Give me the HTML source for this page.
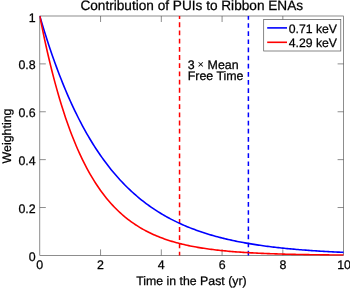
<!DOCTYPE html>
<html><head><meta charset="utf-8"><title>Contribution of PUIs to Ribbon ENAs</title>
<style>
html,body{margin:0;padding:0;background:#fff;}
body{width:350px;height:288px;overflow:hidden;}
svg{display:block;}
text{font-family:"Liberation Sans",sans-serif;fill:#000;stroke:#000;stroke-width:0.25px;text-rendering:geometricPrecision;}
</style></head><body>
<svg width="350" height="288" viewBox="0 0 350 288">
<defs><clipPath id="ax"><rect x="39.50" y="15.70" width="304.40" height="240.00"/></clipPath></defs>
<rect width="350" height="288" fill="#fff"/>
<g stroke="#505050" stroke-width="0.65" fill="none">
<rect x="39.8" y="16.0" width="303.80" height="239.40"/>
<line x1="100.56" y1="255.40" x2="100.56" y2="249.40"/><line x1="100.56" y1="16.00" x2="100.56" y2="22.00"/><line x1="39.80" y1="207.52" x2="45.80" y2="207.52"/><line x1="343.60" y1="207.52" x2="337.60" y2="207.52"/><line x1="161.32" y1="255.40" x2="161.32" y2="249.40"/><line x1="161.32" y1="16.00" x2="161.32" y2="22.00"/><line x1="39.80" y1="159.64" x2="45.80" y2="159.64"/><line x1="343.60" y1="159.64" x2="337.60" y2="159.64"/><line x1="222.08" y1="255.40" x2="222.08" y2="249.40"/><line x1="222.08" y1="16.00" x2="222.08" y2="22.00"/><line x1="39.80" y1="111.76" x2="45.80" y2="111.76"/><line x1="343.60" y1="111.76" x2="337.60" y2="111.76"/><line x1="282.84" y1="255.40" x2="282.84" y2="249.40"/><line x1="282.84" y1="16.00" x2="282.84" y2="22.00"/><line x1="39.80" y1="63.88" x2="45.80" y2="63.88"/><line x1="343.60" y1="63.88" x2="337.60" y2="63.88"/>
</g>
<g fill="none" stroke-width="1.5">
<line x1="179.55" y1="255.40" x2="179.55" y2="16.0" stroke="#f00" stroke-dasharray="4.79 3.4" stroke-dashoffset="1.05"/>
<line x1="248.39" y1="255.40" x2="248.39" y2="16.0" stroke="#00f" stroke-dasharray="4.68 3.45" stroke-dashoffset="0.09"/>
</g>
<g fill="none" stroke-width="1.6" stroke-linejoin="round" clip-path="url(#ax)">
<path d="M39.80,16.00 L41.32,21.17 L42.84,26.24 L44.36,31.19 L45.88,36.03 L47.39,40.77 L48.91,45.41 L50.43,49.95 L51.95,54.39 L53.47,58.73 L54.99,62.98 L56.51,67.14 L58.03,71.21 L59.55,75.19 L61.07,79.08 L62.58,82.89 L64.10,86.62 L65.62,90.27 L67.14,93.84 L68.66,97.33 L70.18,100.74 L71.70,104.09 L73.22,107.36 L74.74,110.56 L76.26,113.69 L77.78,116.75 L79.29,119.74 L80.81,122.68 L82.33,125.54 L83.85,128.35 L85.37,131.10 L86.89,133.78 L88.41,136.41 L89.93,138.98 L91.45,141.50 L92.97,143.96 L94.48,146.37 L96.00,148.72 L97.52,151.03 L99.04,153.28 L100.56,155.49 L102.08,157.65 L103.60,159.76 L105.12,161.83 L106.64,163.85 L108.16,165.83 L109.67,167.76 L111.19,169.66 L112.71,171.51 L114.23,173.32 L115.75,175.10 L117.27,176.83 L118.79,178.53 L120.31,180.19 L121.83,181.82 L123.35,183.41 L124.86,184.96 L126.38,186.49 L127.90,187.97 L129.42,189.43 L130.94,190.86 L132.46,192.25 L133.98,193.62 L135.50,194.95 L137.02,196.26 L138.54,197.54 L140.05,198.79 L141.57,200.01 L143.09,201.21 L144.61,202.38 L146.13,203.52 L147.65,204.64 L149.17,205.74 L150.69,206.81 L152.21,207.86 L153.73,208.89 L155.24,209.90 L156.76,210.88 L158.28,211.84 L159.80,212.78 L161.32,213.70 L162.84,214.61 L164.36,215.49 L165.88,216.35 L167.40,217.19 L168.92,218.02 L170.43,218.83 L171.95,219.62 L173.47,220.39 L174.99,221.15 L176.51,221.89 L178.03,222.61 L179.55,223.32 L181.07,224.01 L182.59,224.69 L184.11,225.36 L185.62,226.00 L187.14,226.64 L188.66,227.26 L190.18,227.87 L191.70,228.46 L193.22,229.05 L194.74,229.62 L196.26,230.17 L197.78,230.72 L199.30,231.25 L200.81,231.77 L202.33,232.28 L203.85,232.78 L205.37,233.27 L206.89,233.75 L208.41,234.22 L209.93,234.68 L211.45,235.12 L212.97,235.56 L214.49,235.99 L216.00,236.41 L217.52,236.82 L219.04,237.22 L220.56,237.61 L222.08,238.00 L223.60,238.38 L225.12,238.74 L226.64,239.10 L228.16,239.46 L229.68,239.80 L231.19,240.14 L232.71,240.47 L234.23,240.79 L235.75,241.11 L237.27,241.41 L238.79,241.72 L240.31,242.01 L241.83,242.30 L243.35,242.58 L244.87,242.86 L246.38,243.13 L247.90,243.40 L249.42,243.66 L250.94,243.91 L252.46,244.16 L253.98,244.40 L255.50,244.64 L257.02,244.87 L258.54,245.10 L260.06,245.32 L261.57,245.54 L263.09,245.75 L264.61,245.96 L266.13,246.17 L267.65,246.36 L269.17,246.56 L270.69,246.75 L272.21,246.94 L273.73,247.12 L275.25,247.30 L276.76,247.47 L278.28,247.65 L279.80,247.81 L281.32,247.98 L282.84,248.14 L284.36,248.29 L285.88,248.45 L287.40,248.60 L288.92,248.75 L290.44,248.89 L291.95,249.03 L293.47,249.17 L294.99,249.30 L296.51,249.43 L298.03,249.56 L299.55,249.69 L301.07,249.81 L302.59,249.93 L304.11,250.05 L305.62,250.17 L307.14,250.28 L308.66,250.39 L310.18,250.50 L311.70,250.61 L313.22,250.71 L314.74,250.81 L316.26,250.91 L317.78,251.01 L319.30,251.10 L320.82,251.19 L322.33,251.29 L323.85,251.37 L325.37,251.46 L326.89,251.55 L328.41,251.63 L329.93,251.71 L331.45,251.79 L332.97,251.87 L334.49,251.94 L336.00,252.02 L337.52,252.09 L339.04,252.16 L340.56,252.23 L342.08,252.30 L343.60,252.37" stroke="#00f"/>
<path d="M39.80,16.00 L41.32,23.68 L42.84,31.11 L44.36,38.31 L45.88,45.28 L47.39,52.02 L48.91,58.54 L50.43,64.86 L51.95,70.97 L53.47,76.89 L54.99,82.61 L56.51,88.16 L58.03,93.52 L59.55,98.72 L61.07,103.74 L62.58,108.61 L64.10,113.32 L65.62,117.88 L67.14,122.29 L68.66,126.56 L70.18,130.69 L71.70,134.69 L73.22,138.57 L74.74,142.32 L76.26,145.94 L77.78,149.46 L79.29,152.85 L80.81,156.14 L82.33,159.33 L83.85,162.41 L85.37,165.39 L86.89,168.28 L88.41,171.08 L89.93,173.78 L91.45,176.40 L92.97,178.94 L94.48,181.39 L96.00,183.76 L97.52,186.06 L99.04,188.29 L100.56,190.44 L102.08,192.52 L103.60,194.54 L105.12,196.49 L106.64,198.38 L108.16,200.21 L109.67,201.98 L111.19,203.70 L112.71,205.36 L114.23,206.96 L115.75,208.51 L117.27,210.02 L118.79,211.48 L120.31,212.88 L121.83,214.25 L123.35,215.57 L124.86,216.85 L126.38,218.08 L127.90,219.28 L129.42,220.44 L130.94,221.56 L132.46,222.65 L133.98,223.70 L135.50,224.71 L137.02,225.70 L138.54,226.65 L140.05,227.57 L141.57,228.47 L143.09,229.33 L144.61,230.17 L146.13,230.98 L147.65,231.76 L149.17,232.52 L150.69,233.25 L152.21,233.96 L153.73,234.65 L155.24,235.32 L156.76,235.96 L158.28,236.58 L159.80,237.19 L161.32,237.77 L162.84,238.34 L164.36,238.89 L165.88,239.42 L167.40,239.93 L168.92,240.42 L170.43,240.91 L171.95,241.37 L173.47,241.82 L174.99,242.26 L176.51,242.68 L178.03,243.09 L179.55,243.48 L181.07,243.86 L182.59,244.23 L184.11,244.59 L185.62,244.94 L187.14,245.27 L188.66,245.60 L190.18,245.91 L191.70,246.22 L193.22,246.51 L194.74,246.80 L196.26,247.07 L197.78,247.34 L199.30,247.60 L200.81,247.85 L202.33,248.09 L203.85,248.33 L205.37,248.55 L206.89,248.77 L208.41,248.99 L209.93,249.19 L211.45,249.39 L212.97,249.58 L214.49,249.77 L216.00,249.95 L217.52,250.13 L219.04,250.29 L220.56,250.46 L222.08,250.62 L223.60,250.77 L225.12,250.92 L226.64,251.06 L228.16,251.20 L229.68,251.34 L231.19,251.47 L232.71,251.59 L234.23,251.72 L235.75,251.83 L237.27,251.95 L238.79,252.06 L240.31,252.17 L241.83,252.27 L243.35,252.37 L244.87,252.47 L246.38,252.56 L247.90,252.65 L249.42,252.74 L250.94,252.83 L252.46,252.91 L253.98,252.99 L255.50,253.07 L257.02,253.14 L258.54,253.21 L260.06,253.28 L261.57,253.35 L263.09,253.42 L264.61,253.48 L266.13,253.54 L267.65,253.60 L269.17,253.66 L270.69,253.72 L272.21,253.77 L273.73,253.82 L275.25,253.87 L276.76,253.92 L278.28,253.97 L279.80,254.01 L281.32,254.06 L282.84,254.10 L284.36,254.14 L285.88,254.18 L287.40,254.22 L288.92,254.26 L290.44,254.30 L291.95,254.33 L293.47,254.37 L294.99,254.40 L296.51,254.43 L298.03,254.46 L299.55,254.49 L301.07,254.52 L302.59,254.55 L304.11,254.58 L305.62,254.60 L307.14,254.63 L308.66,254.65 L310.18,254.68 L311.70,254.70 L313.22,254.72 L314.74,254.75 L316.26,254.77 L317.78,254.79 L319.30,254.81 L320.82,254.83 L322.33,254.84 L323.85,254.86 L325.37,254.88 L326.89,254.90 L328.41,254.91 L329.93,254.93 L331.45,254.94 L332.97,254.96 L334.49,254.97 L336.00,254.99 L337.52,255.00 L339.04,255.01 L340.56,255.02 L342.08,255.04 L343.60,255.05" stroke="#f00"/>
</g>
<rect x="263.7" y="19.5" width="77.1" height="31.5" fill="#fff" stroke="#555" stroke-width="0.7"/>
<line x1="267.2" y1="27.9" x2="287" y2="27.9" stroke="#00f" stroke-width="1.6"/>
<line x1="267.2" y1="42.3" x2="287" y2="42.3" stroke="#f00" stroke-width="1.6"/>
<g font-size="12.4px">
<text x="288.7" y="32.7" font-size="12.25px">0.71 keV</text>
<text x="288.7" y="47.3" font-size="12.25px">4.29 keV</text>
<text x="187.7" y="68.6">3 <tspan x="197.4" y="68.3" font-size="11px" stroke="none">×</tspan> <tspan x="207.6" y="68.6">Mean</tspan></text>
<text x="187.7" y="80.2">Free Time</text>
<text x="39.80" y="269.15" text-anchor="middle">0</text><text x="100.56" y="269.15" text-anchor="middle">2</text><text x="161.32" y="269.15" text-anchor="middle">4</text><text x="222.08" y="269.15" text-anchor="middle">6</text><text x="282.84" y="269.15" text-anchor="middle">8</text><text x="344.10" y="269.15" text-anchor="middle">10</text>
<text x="35.7" y="260.90" text-anchor="end">0</text><text x="35.7" y="213.02" text-anchor="end">0.2</text><text x="35.7" y="165.14" text-anchor="end">0.4</text><text x="35.7" y="117.26" text-anchor="end">0.6</text><text x="35.7" y="69.38" text-anchor="end">0.8</text><text x="35.7" y="21.50" text-anchor="end">1</text>
<text x="191.4" y="284.7" text-anchor="middle" font-size="12.32px">Time in the Past (yr)</text>
<text transform="translate(10.7,136) rotate(-90)" text-anchor="middle">Weighting</text>
</g>
<text x="191.75" y="10.2" text-anchor="middle" font-size="13.64px">Contribution of PUIs to Ribbon ENAs</text>
</svg>
</body></html>
